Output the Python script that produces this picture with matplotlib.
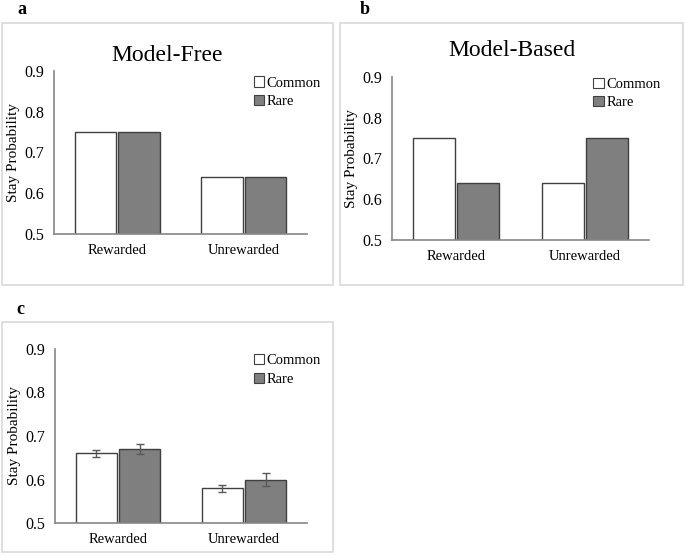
import matplotlib.pyplot as plt
from matplotlib.patches import Rectangle, Patch

plt.rcParams["font.family"] = ["Liberation Serif", "DejaVu Serif"]

conditions = ["Rewarded", "Unrewarded"]
series = ["Common", "Rare"]

free_common = [0.75, 0.64]
free_rare = [0.75, 0.64]

based_common = [0.75, 0.64]
based_rare = [0.64, 0.75]

data_common = [0.66, 0.58]
data_rare = [0.67, 0.60]
data_common_err = [0.008, 0.008]
data_rare_err = [0.012, 0.014]

yticks = [0.5, 0.6, 0.7, 0.8, 0.9]

W, H = 685, 557
fig = plt.figure(figsize=(W / 100, H / 100), dpi=100)


def px(x0, y0, x1, y1):
    # pixel box (top-left origin) -> figure fraction [left, bottom, w, h]
    return [x0 / W, 1 - y1 / H, (x1 - x0) / W, (y1 - y0) / H]


def frame(x0, y0, x1, y1):
    l, b, w, h = px(x0, y0, x1, y1)
    fig.patches.append(Rectangle((l, b), w, h, transform=fig.transFigure,
                                 fill=False, edgecolor="#d9d9d9", lw=1.2))


def panel(box, common, rare, title=None, tx=0.5, tpad=8,
          common_err=None, rare_err=None, leg_x=1.09, leg_y=1.02):
    ax = fig.add_axes(px(*box))
    xs = range(len(conditions))
    off, bw = 0.172, 0.325
    err_kw = dict(ecolor="#595959", capsize=3, elinewidth=1, capthick=1)
    ax.bar([x - off for x in xs], common, bw, color="white",
           edgecolor="#404040", lw=1, yerr=common_err, error_kw=err_kw)
    ax.bar([x + off for x in xs], rare, bw, color="#7f7f7f",
           edgecolor="#404040", lw=1, yerr=rare_err, error_kw=err_kw)
    ax.set_ylim(0.5, 0.9)
    ax.set_xlim(-0.5, 1.5)
    ax.set_yticks(yticks)
    ax.set_yticklabels([f"{t:.1f}" for t in yticks], fontsize=11.5)
    ax.set_xticks(list(xs))
    ax.set_xticklabels(conditions, fontsize=10.5)
    ax.tick_params(length=0, pad=7)
    for s in ["top", "right"]:
        ax.spines[s].set_visible(False)
    for s in ["left", "bottom"]:
        ax.spines[s].set_color("#868686")
        ax.spines[s].set_linewidth(1.2)
    ax.set_ylabel("Stay Probability", fontsize=11, labelpad=3)
    handles = [Patch(facecolor="white", edgecolor="#404040", lw=0.8),
               Patch(facecolor="#7f7f7f", edgecolor="#404040", lw=0.8)]
    ax.legend(handles, series, loc="upper right", bbox_to_anchor=(leg_x, leg_y),
              frameon=False, fontsize=10.5, handlelength=0.7, handleheight=0.7,
              handletextpad=0.2, labelspacing=0.35, borderaxespad=0.2)
    if title:
        ax.set_title(title, fontsize=17, x=tx, pad=tpad)
    return ax


frame(2, 23, 333, 285)
frame(340, 23, 683, 285)
frame(2, 322, 333, 552)

panel((54, 71, 307, 234), free_common, free_rare, title="Model-Free",
      tx=0.449, tpad=7)
panel((392, 77, 649, 240), based_common, based_rare, title="Model-Based",
      tx=0.465, tpad=15, leg_x=1.08, leg_y=1.05)
panel((55, 349, 307, 523), data_common, data_rare,
      common_err=data_common_err, rare_err=data_rare_err)

for lab, x, y in [("a", 22, 10), ("b", 365, 10), ("c", 20, 310)]:
    fig.text(x / W, 1 - y / H, lab, fontsize=13, fontweight="bold",
             ha="center", va="center")

fig.savefig("out.png", dpi=100)
